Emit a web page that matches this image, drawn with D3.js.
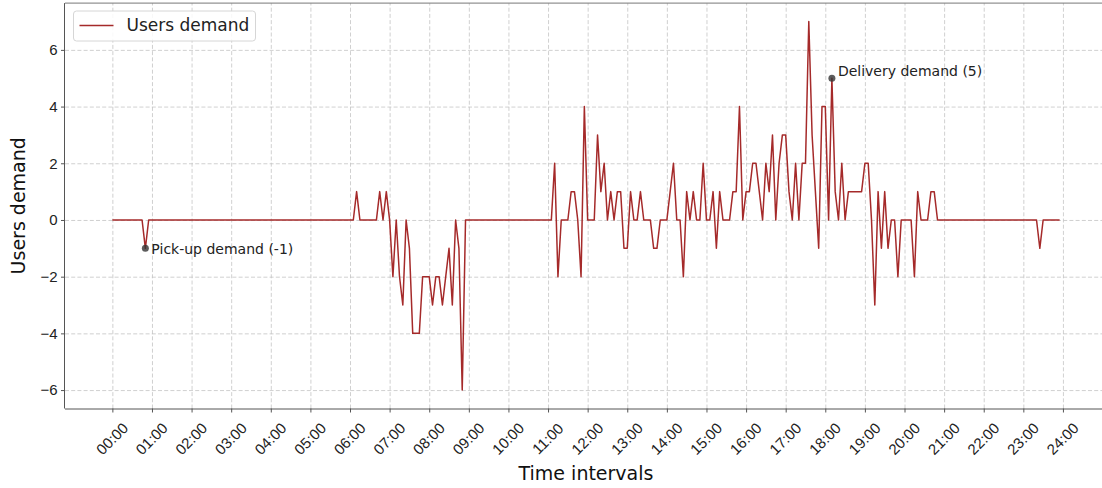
<!DOCTYPE html>
<html>
<head>
<meta charset="utf-8">
<script src="https://cdn.jsdelivr.net/npm/d3@7"></script>
<style>
  html, body { margin: 0; padding: 0; background: #fff; }
  svg { display: block; font-family: "DejaVu Sans", sans-serif; }
</style>
</head>
<body>
<svg id="chart" width="1102" height="488"></svg>
<script>
// ---- data (5-minute intervals over a day, 288 values) ----
const hourLabels = ["00:00","01:00","02:00","03:00","04:00","05:00","06:00","07:00","08:00",
  "09:00","10:00","11:00","12:00","13:00","14:00","15:00","16:00","17:00","18:00","19:00",
  "20:00","21:00","22:00","23:00","24:00"];
const intervalsPerHour = 12;
const demandValues = [
  0,0,0,0,0,0,0,0,0,0,-1,0,          // 00
  0,0,0,0,0,0,0,0,0,0,0,0,           // 01
  0,0,0,0,0,0,0,0,0,0,0,0,           // 02
  0,0,0,0,0,0,0,0,0,0,0,0,           // 03
  0,0,0,0,0,0,0,0,0,0,0,0,           // 04
  0,0,0,0,0,0,0,0,0,0,0,0,           // 05
  0,0,1,0,0,0,0,0,0,1,0,1,           // 06
  0,-2,0,-2,-3,0,-1,-4,-4,-4,-2,-2,  // 07
  -2,-3,-2,-2,-3,-2,-1,-3,0,-1,-6,0, // 08
  0,0,0,0,0,0,0,0,0,0,0,0,           // 09
  0,0,0,0,0,0,0,0,0,0,0,0,           // 10
  0,0,2,-2,0,0,0,1,1,0,-2,4,         // 11
  0,0,0,3,1,2,0,1,0,1,1,-1,          // 12
  -1,1,0,0,1,0,0,0,-1,-1,0,0,        // 13
  0,1,2,0,0,-2,1,0,1,0,0,2,          // 14
  0,0,1,-1,1,0,0,0,1,1,4,0,          // 15
  1,1,2,2,1,0,2,1,3,0,2,3,           // 16
  3,1,0,2,0,2,2,7,3,1,-1,4,          // 17
  4,0,5,1,0,2,0,1,1,1,1,1,           // 18
  2,2,0,-3,1,-1,1,-1,0,0,-2,0,       // 19
  0,0,0,-2,1,0,0,0,1,1,0,0,          // 20
  0,0,0,0,0,0,0,0,0,0,0,0,           // 21
  0,0,0,0,0,0,0,0,0,0,0,0,           // 22
  0,0,0,0,0,-1,0,0,0,0,0,0           // 23
];
const yTickValues = [-6,-4,-2,0,2,4,6];
const annotations = [
  { index: 10,  label: "Pick-up demand (-1)", dx: 6, dy: 6 },
  { index: 218, label: "Delivery demand (5)", dx: 6, dy: -2 }
];
const seriesName = "Users demand";

// ---- layout ----
const svg = d3.select("#chart");
const plot = { left: 65, right: 1107, top: 3.1, bottom: 408.5 };
const lineColor = "#a52a2a";

const n = demandValues.length;
const xPad = 0.05 * (n - 1);
const x = d3.scaleLinear().domain([-xPad, (n - 1) + xPad]).range([plot.left, plot.right]);
const yMin = d3.min(demandValues), yMax = d3.max(demandValues);
const yPad = 0.05 * (yMax - yMin);
const y = d3.scaleLinear().domain([yMin - yPad, yMax + yPad]).range([plot.bottom, plot.top]);

const hourTicks = hourLabels.map((_, i) => i * intervalsPerHour);

svg.append("defs").append("clipPath").attr("id", "clip")
  .append("rect").attr("x", plot.left).attr("y", plot.top)
  .attr("width", plot.right - plot.left).attr("height", plot.bottom - plot.top);

// grid
const grid = svg.append("g").attr("class", "grid");
grid.append("g").attr("transform", `translate(0,${plot.bottom})`)
  .call(d3.axisBottom(x).tickValues(hourTicks).tickSize(-(plot.bottom - plot.top)).tickFormat(""));
grid.append("g").attr("transform", `translate(${plot.left},0)`)
  .call(d3.axisLeft(y).tickValues(yTickValues).tickSize(-(plot.right - plot.left)).tickFormat(""));
grid.selectAll(".domain").remove();
grid.selectAll(".tick line")
  .attr("stroke", "#c4c4c4").attr("stroke-width", 0.8).attr("stroke-dasharray", "4,2.2");

// frame (top & right spines)
svg.append("line").attr("x1", plot.left).attr("x2", plot.right)
  .attr("y1", plot.top).attr("y2", plot.top).attr("stroke", "#777").attr("stroke-width", 1);
svg.append("line").attr("x1", plot.right).attr("x2", plot.right)
  .attr("y1", plot.top).attr("y2", plot.bottom).attr("stroke", "#777").attr("stroke-width", 1);

// line
const line = d3.line().x((d, i) => x(i)).y(d => y(d));
svg.append("path").datum(demandValues)
  .attr("clip-path", "url(#clip)")
  .attr("fill", "none").attr("stroke", lineColor).attr("stroke-width", 1.5)
  .attr("stroke-linejoin", "round")
  .attr("d", line);

// axes
const xAxis = svg.append("g").attr("transform", `translate(0,${plot.bottom})`)
  .call(d3.axisBottom(x).tickValues(hourTicks).tickFormat((d, i) => hourLabels[i]).tickSize(4).tickSizeOuter(0));
xAxis.select(".domain").attr("stroke", "#555").attr("d", `M${plot.left},0.5H${plot.right}`);
xAxis.selectAll(".tick line").attr("stroke", "#555");
xAxis.selectAll(".tick text")
  .attr("font-size", 15).attr("fill", "#222")
  .attr("text-anchor", "middle").attr("dominant-baseline", "central")
  .attr("y", null).attr("dy", null)
  .attr("transform", "translate(-1,30) rotate(-45)");

const yAxis = svg.append("g").attr("transform", `translate(${plot.left},0)`)
  .call(d3.axisLeft(y).tickValues(yTickValues).tickFormat(d => d < 0 ? "\u2212" + Math.abs(d) : d).tickSize(4).tickSizeOuter(0));
yAxis.select(".domain").attr("stroke", "#555").attr("d", `M-0.5,${plot.top}V${plot.bottom}`);
yAxis.selectAll(".tick line").attr("stroke", "#555");
yAxis.selectAll(".tick text").attr("font-size", 15).attr("fill", "#222").attr("x", -7.5);

// axis labels
svg.append("text").attr("x", (plot.left + plot.right) / 2).attr("y", 480)
  .attr("text-anchor", "middle").attr("font-size", 19).attr("fill", "#111")
  .text("Time intervals");
svg.append("text").attr("transform", `translate(25,${(plot.top + plot.bottom) / 2}) rotate(-90)`)
  .attr("text-anchor", "middle").attr("font-size", 19).attr("fill", "#111")
  .text("Users demand");

// annotations
annotations.forEach(a => {
  const px = x(a.index), py = y(demandValues[a.index]);
  svg.append("circle").attr("cx", px).attr("cy", py).attr("r", 3.5)
    .attr("fill", "#333").attr("fill-opacity", 0.8);
  svg.append("text").attr("x", px + a.dx).attr("y", py + a.dy)
    .attr("font-size", 14).attr("fill", "#222").text(a.label);
});

// legend
const lg = svg.append("g").attr("transform", "translate(73.5,11)");
lg.append("rect").attr("width", 182).attr("height", 30).attr("rx", 3)
  .attr("fill", "#fff").attr("fill-opacity", 0.85).attr("stroke", "#d6d6d6");
lg.append("line").attr("x1", 6).attr("x2", 40).attr("y1", 14.5).attr("y2", 14.5)
  .attr("stroke", lineColor).attr("stroke-width", 1.5);
lg.append("text").attr("x", 53).attr("y", 20).attr("font-size", 17).attr("fill", "#222").text(seriesName);
</script>
</body>
</html>
